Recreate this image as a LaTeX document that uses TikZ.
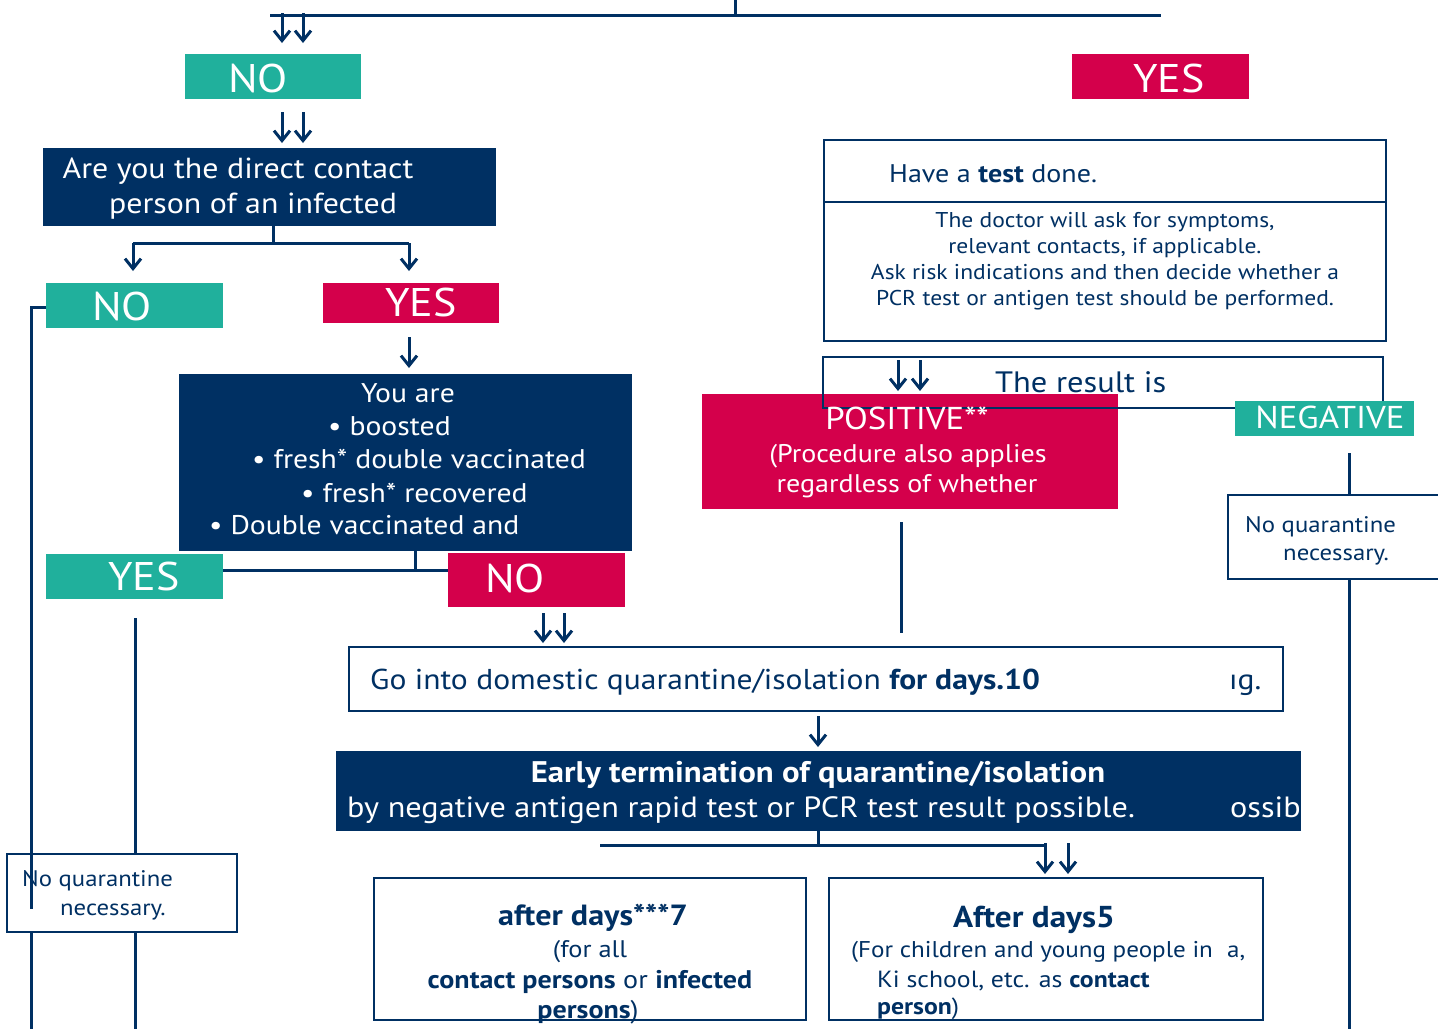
\documentclass[tikz,border=0pt]{standalone}
\usepackage{fontspec}
\setmainfont[FakeStretch=1.1]{PT Sans}
\usetikzlibrary{arrows.meta}
\definecolor{tealc}{HTML}{20B09C}
\definecolor{redc}{HTML}{D4004B}
\definecolor{navyc}{HTML}{003063}
\newcommand\myfs[1]{\fontsize{#1}{#1}\selectfont}
\begin{document}
\begin{tikzpicture}[x=1pt,y=-1pt,
  conn/.style={draw=navyc,line width=3pt},
  arr/.style={draw=navyc,line width=3pt,-{Straight Barb[length=10pt,width=16pt,line width=3pt]}},
  fbox/.style={inner sep=0pt,outer sep=0pt,anchor=north west,draw=none},
  tealbox/.style={fbox,fill=tealc},
  redbox/.style={fbox,fill=redc},
  navybox/.style={fbox,fill=navyc},
  wbox/.style={fbox,draw=navyc,line width=2pt,fill=white},
  obox/.style={fbox,draw=navyc,line width=2pt},
  wt/.style={inner sep=0pt,text=white},
  nt/.style={inner sep=0pt,text=navyc},
]
\useasboundingbox (0,0) rectangle (1438,1029);

% ---------- top ----------
\coordinate (tick) at (735,0);
\coordinate (tl) at (270,15);
\coordinate (tr) at (1161,15);
\draw[conn] (tl) -- (tr);
\draw[conn] (tick) -- (tick |- tl);
\coordinate (a1s) at (282,13); \coordinate (a1e) at (282,43);
\coordinate (a2s) at (303,13); \coordinate (a2e) at (303,43);
\draw[arr] (a1s) -- (a1e);
\draw[arr] (a2s) -- (a2e);

\node[tealbox,minimum width=176pt,minimum height=45pt] (no1) at (185,54) {};
\node[wt,anchor=base west] (no1t) at (228,92) {\myfs{40}NO};

\node[redbox,minimum width=177pt,minimum height=45pt] (yes1) at (1072,54) {};
\node[wt,anchor=base west] (yes1t) at (1133,92) {\myfs{40}YES};

\coordinate (a3s) at (282,112); \coordinate (a3e) at (282,143);
\coordinate (a4s) at (303,112); \coordinate (a4e) at (303,143);
\draw[arr] (a3s) -- (a3e);
\draw[arr] (a4s) -- (a4e);

% ---------- question ----------
\node[navybox,minimum width=453pt,minimum height=78pt] (q) at (43,148) {};
\node[wt,anchor=base] (q1) at (238,178) {\myfs{29}Are you the direct contact};
\node[wt,anchor=base] (q2) at (253,213) {\myfs{29}person of an infected};

\coordinate (jq) at (273,243);
\coordinate (jql) at (133,243);
\coordinate (jqr) at (409,243);
\coordinate (jqle) at (133,271);
\coordinate (jqre) at (409,271);
\draw[conn] (q.south -| jq) -- (jq);
\draw[conn] (jql) -- (jqr);
\draw[arr] (jql) -- (jqle);
\draw[arr] (jqr) -- (jqre);

\node[tealbox,minimum width=177pt,minimum height=45pt] (no2) at (46,283) {};
\node[wt,anchor=base west] (no2t) at (92,320) {\myfs{40}NO};
\node[redbox,minimum width=176pt,minimum height=40pt] (yes2) at (323,283) {};
\node[wt,anchor=base west] (yes2t) at (385,316) {\myfs{40}YES};

% left long line
\coordinate (ll1) at (31,307);
\coordinate (ll2) at (31,1029);
\draw[conn] (no2.west |- ll1) -- (ll1) -- (ll2);

\coordinate (a5s) at (409,337); \coordinate (a5e) at (409,368);
\draw[arr] (a5s) -- (a5e);

% ---------- you are ----------
\node[navybox,minimum width=453pt,minimum height=177pt] (ya) at (179,374) {};
\node[wt,anchor=base] (ya1) at (408,402) {\myfs{27}You are};
\node[wt,anchor=base west] (ya2) at (328,435) {\myfs{27}• boosted};
\node[wt,anchor=base west] (ya3) at (252,468) {\myfs{27}• fresh* double vaccinated};
\node[wt,anchor=base west] (ya4) at (301,502) {\myfs{27}• fresh* recovered};
\node[wt,anchor=base west] (ya5) at (209,534) {\myfs{27}• Double vaccinated and};

\coordinate (jy) at (415,570);
\draw[conn] (ya.south -| jy) -- (jy);

\node[tealbox,minimum width=177pt,minimum height=45pt] (yes3) at (46,554) {};
\node[wt,anchor=base west] (yes3t) at (108,590) {\myfs{40}YES};
\node[redbox,minimum width=177pt,minimum height=54pt] (no3) at (448,553) {};
\node[wt,anchor=base west] (no3t) at (485,592) {\myfs{40}NO};
\draw[conn] (yes3.east |- jy) -- (no3.west |- jy);

% line from YES down
\coordinate (m1) at (135,618);
\coordinate (m2) at (135,1029);
\node[wbox,line width=1.6pt,minimum width=230pt,minimum height=78pt] (nq1) at (7,854) {};
\node[nt,anchor=base west] (nq1a) at (22,886) {\myfs{22.5}No quarantine};
\node[nt,anchor=base west] (nq1b) at (60,915) {\myfs{22.5}necessary.};
\draw[conn] (m1) -- (nq1.north -| m1);
\draw[conn] (nq1.south -| m1) -- (m2);
\coordinate (ll3) at (31,909);
\draw[conn] (ll1) -- (ll3);

\coordinate (a6s) at (543,613); \coordinate (a6e) at (543,643);
\coordinate (a7s) at (564,613); \coordinate (a7e) at (564,643);
\draw[arr] (a6s) -- (a6e);
\draw[arr] (a7s) -- (a7e);

% ---------- quarantine ----------
\node[wbox,minimum width=934pt,minimum height=64pt] (go) at (349,647) {};
\node[nt,anchor=base west] (got) at (370,689) {\myfs{28.7}Go into domestic quarantine/isolation \textbf{for days.10}};
\node[nt,anchor=base west] (got2) at (1229,689) {\myfs{28.7}ıg.};

\coordinate (a8s) at (818,716); \coordinate (a8e) at (818,747);
\draw[arr] (a8s) -- (a8e);

\node[navybox,minimum width=965pt,minimum height=80pt] (early) at (336,751) {};
\node[wt,anchor=base] (e1) at (818,782) {\myfs{29.8}\textbf{Early termination of quarantine/isolation}};
\node[wt,anchor=base west] (e2) at (347,817) {\myfs{29.3}by negative antigen rapid test or PCR test result possible.};
\node[wt,anchor=base west] (e3) at (1230,817) {\myfs{29.3}ossib};

\coordinate (je) at (818,845);
\coordinate (jel) at (600,845);
\coordinate (jer) at (1045,845);
\draw[conn] (early.south -| je) -- (je);
\draw[conn] (jel) -- (jer);
\coordinate (a9s) at (1045,843); \coordinate (a9e) at (1045,874);
\coordinate (a10s) at (1068,843); \coordinate (a10e) at (1068,874);
\draw[arr] (a9s) -- (a9e);
\draw[arr] (a10s) -- (a10e);

\node[wbox,minimum width=432pt,minimum height=142pt] (d7) at (374,878) {};
\node[nt,anchor=base] (d7a) at (593,925) {\myfs{29.2}\textbf{after days***7}};
\node[nt,anchor=base] (d7b) at (590,957) {\myfs{24}(for all};
\node[nt,anchor=base] (d7c) at (590,988) {\myfs{25.5}\textbf{contact persons} or \textbf{infected}};
\node[nt,anchor=base] (d7d) at (588,1018) {\myfs{25.5}\textbf{persons})};

\node[wbox,minimum width=434pt,minimum height=142pt] (d5) at (829,878) {};
\node[nt,anchor=base] (d5a) at (1034,927) {\myfs{30.2}\textbf{After days5}};
\node[nt,anchor=base west] (d5b) at (851,957) {\myfs{22.8}(For children and young people in};
\node[nt,anchor=base west] (d5c) at (1227,957) {\myfs{22.8}a,};
\node[nt,anchor=base west] (d5d) at (877,987) {\myfs{23.4}Ki school, etc. as \textbf{contact}};
\node[nt,anchor=base west] (d5e) at (877,1014) {\myfs{23.4}\textbf{person})};

% ---------- right: test ----------
\node[wbox,minimum width=562pt,minimum height=62pt] (test) at (824,140) {};
\node[nt,anchor=base west] (testt) at (889,182) {\myfs{25.5}Have a \textbf{test} done.};
\node[wbox,minimum width=562pt,minimum height=139pt] (doc) at (824,202) {};
\node[nt,anchor=base] (doc1) at (1105,227) {\myfs{21.4}The doctor will ask for symptoms,};
\node[nt,anchor=base] (doc2) at (1105,253) {\myfs{21.4}relevant contacts, if applicable.};
\node[nt,anchor=base] (doc3) at (1105,279) {\myfs{21.4}Ask risk indications and then decide whether a};
\node[nt,anchor=base] (doc4) at (1105,305) {\myfs{21.4}PCR test or antigen test should be performed.};

\node[redbox,minimum width=416pt,minimum height=115pt] (pos) at (702,394) {};
\node[obox,minimum width=560pt,minimum height=51pt] (res) at (823,357) {};
\node[nt,anchor=base west] (rest) at (995,392) {\myfs{29.5}The result is};
\coordinate (a11s) at (898,360); \coordinate (a11e) at (898,391);
\coordinate (a12s) at (920,360); \coordinate (a12e) at (920,391);
\draw[arr] (a11s) -- (a11e);
\draw[arr] (a12s) -- (a12e);
\node[wt,anchor=base] (pos1) at (907,429) {\myfs{31.6}POSITIVE**};
\node[wt,anchor=base] (pos2) at (908,462) {\myfs{25.5}(Procedure also applies};
\node[wt,anchor=base] (pos3) at (907,492) {\myfs{25.5}regardless of whether};

\node[tealbox,minimum width=179pt,minimum height=35pt] (neg) at (1235,401) {};
\node[wt,anchor=base] (negt) at (1330,428) {\myfs{31.6}NEGATIVE};

\coordinate (p1) at (901,522);
\coordinate (p2) at (901,633);
\draw[conn] (p1) -- (p2);

\coordinate (n1) at (1349,453);
\coordinate (n2) at (1349,1029);
\node[wbox,minimum width=215pt,minimum height=84pt] (nq2) at (1228,495) {};
\node[nt,anchor=base west] (nq2a) at (1245,532) {\myfs{22.5}No quarantine};
\node[nt,anchor=base west] (nq2b) at (1283,560) {\myfs{22.5}necessary.};
\draw[conn] (n1) -- (nq2.north -| n1);
\draw[conn] (nq2.south -| n1) -- (n2);
\end{tikzpicture}
\end{document}
